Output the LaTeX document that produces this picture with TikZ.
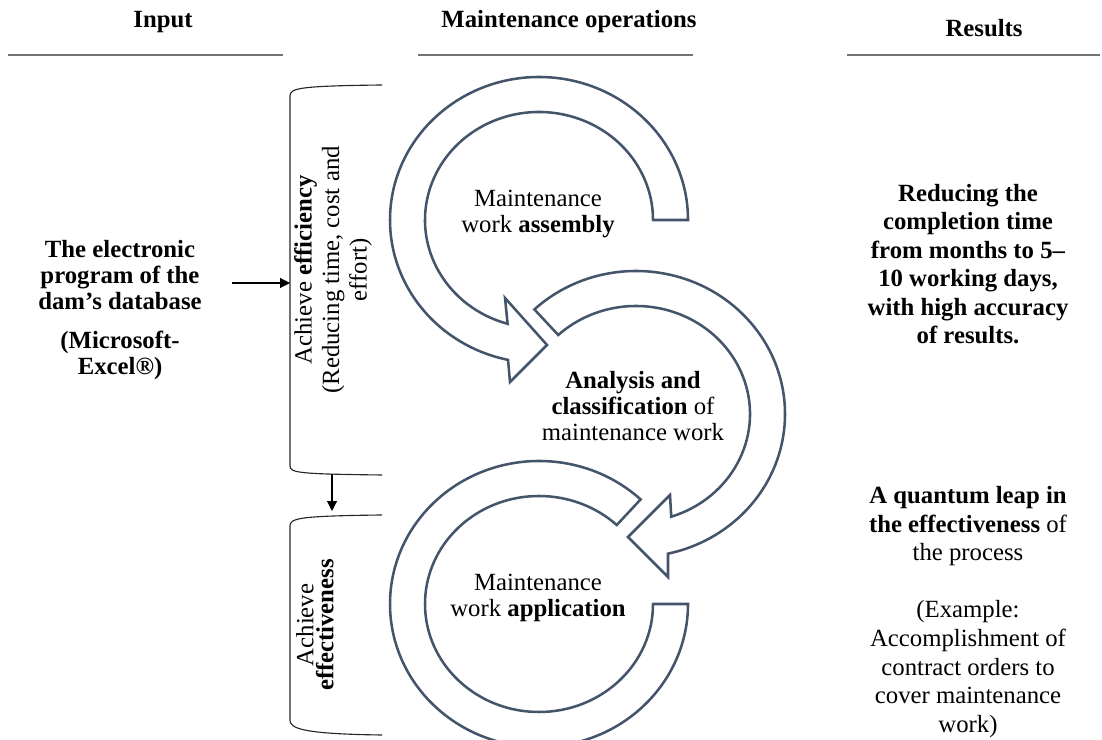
\documentclass[tikz,border=0pt]{standalone}
\usepackage{fontspec}
\setmainfont{Liberation Serif}
\usetikzlibrary{arrows.meta}

\definecolor{ringblue}{HTML}{44546A}

\tikzset{
  ringshape/.style={draw=ringblue, line width=1.8pt, fill=white, line join=miter},
  bracket/.style={draw=black!85, line width=0.8pt},
  toprule/.style={draw=black!55, line width=1.1pt},
  heading/.style={inner sep=0pt, font=\bfseries\fontsize{17.6}{19}\selectfont},
  bodytext/.style={align=center, inner sep=0pt, font=\fontsize{17.6}{18.5}\selectfont},
  boldtext/.style={bodytext, font=\bfseries\fontsize{17.6}{18.5}\selectfont},
  resulttext/.style={align=center, inner sep=0pt, font=\fontsize{17.6}{20.3}\selectfont},
  connector/.style={-{Triangle[length=7pt,width=7pt]}, black, line width=0.8pt},
}

\begin{document}
\begin{tikzpicture}[x=0.025cm, y=0.025cm]
\useasboundingbox (0,0) rectangle (1102,740);
%\draw[help lines, step=50] (0,0) grid (1102,740);

% Headings
\node[heading] (hin) at (163,718) {Input};
\node[heading] (hops) at (569,718) {Maintenance operations};
\node[heading] (hres) at (984,712) {Results};
\draw[toprule] (8,685) -- (283,685);
\draw[toprule] (418,685) -- (693,685);
\draw[toprule] (847,685) -- (1100,685);

% Input
\node[boldtext] (input) at (120,430) {The electronic\\program of the\\dam’s database\\[9pt](Microsoft-\\Excel®)};

% Brackets
\draw[bracket] (382,655) .. controls (300,654) and (290,652) .. (290,644) -- (290,274) .. controls (290,267) and (300,266) .. (382,265);
\draw[bracket] (382,225) .. controls (300,224) and (290,222) .. (290,214) -- (290,20) .. controls (290,12) and (300,6) .. (382,5);

\node[bodytext, rotate=90, font=\fontsize{17.6}{19.6}\selectfont] (efficiency) at (333,470) {Achieve \textbf{efficiency}\\(Reducing time, cost and\\effort)};
\node[bodytext, rotate=90, font=\fontsize{17.6}{14.2}\selectfont] (effectiveness) at (315,115) {Achieve\\\textbf{effectiveness}};

\coordinate (src) at (232,457);
\coordinate (eff) at (290,457);
\coordinate (effout) at (332,265.5);
\coordinate (effin) at (332,229);
\draw[connector] (src) -- (eff);
\draw[connector] (effout) -- (effin);

% Rings
\begin{scope}[shift={(539,520)}]
  \draw[ringshape] (0:149 and 143) arc[start angle=0, end angle=258, x radius=149, y radius=143]
    -- (-29,-162) -- (8,-125) -- (-34,-78) -- (254:114 and 108)
    arc[start angle=254, end angle=0, x radius=114, y radius=108] -- cycle;
\end{scope}
\begin{scope}[shift={(636,326)}]
  \draw[ringshape] (133:149 and 143) arc[start angle=133, end angle=-77.6, x radius=149, y radius=143]
    -- (32,-163) -- (-8,-123) -- (34,-81) -- (-72:114 and 108)
    arc[start angle=-72, end angle=133, x radius=114, y radius=108] -- cycle;
\end{scope}
\begin{scope}[shift={(539,136)}]
  \draw[ringshape] (47:149 and 143) arc[start angle=47, end angle=360, x radius=149, y radius=143]
    -- (0:114 and 108)
    arc[start angle=360, end angle=47, x radius=114, y radius=108] -- cycle;
\end{scope}

\node[bodytext] (assembly) at (538,526) {Maintenance\\work \textbf{assembly}};
\node[bodytext] (analysis) at (633,334) {\textbf{Analysis and}\\\textbf{classification} of\\maintenance work};
\node[bodytext] (application) at (538,142) {Maintenance\\work \textbf{application}};

% Results
\node[resulttext, font=\bfseries\fontsize{17.6}{20.3}\selectfont] (time) at (968,476) {Reducing the\\completion time\\from months to 5–\\10 working days,\\with high accuracy\\of results.};
\node[resulttext] (leap) at (968,128) {\textbf{A quantum leap in}\\\textbf{the effectiveness} of\\the process\\[20.3pt](Example:\\Accomplishment of\\contract orders to\\cover maintenance\\work)};

\end{tikzpicture}
\end{document}
